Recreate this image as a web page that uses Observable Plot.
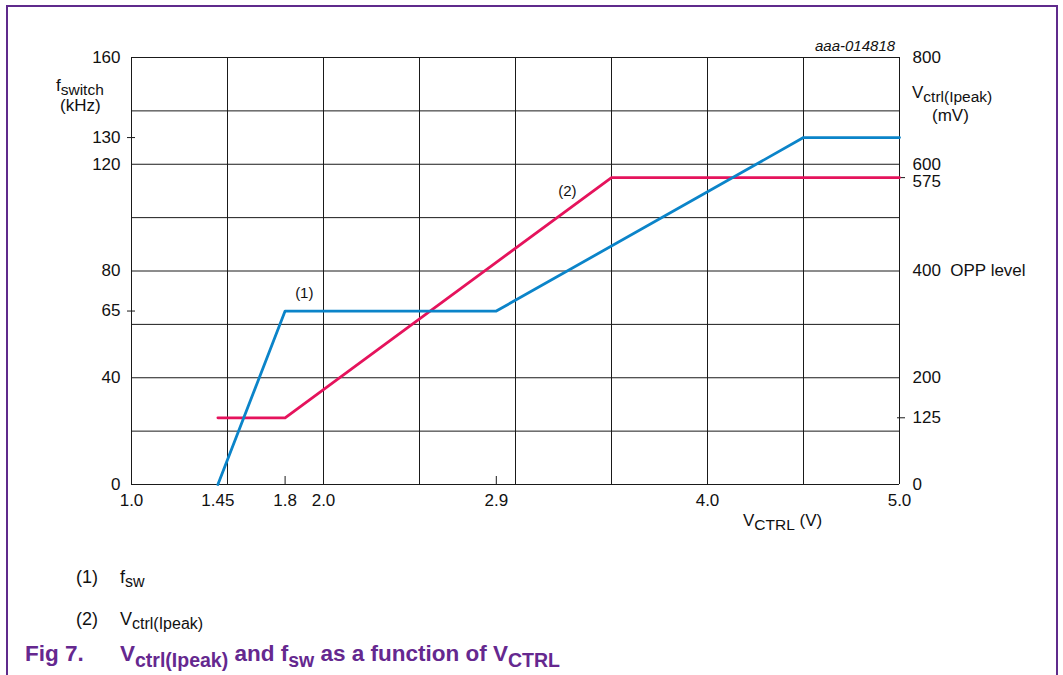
<!DOCTYPE html>
<html>
<head>
<meta charset="utf-8">
<script src="https://cdn.jsdelivr.net/npm/d3@7"></script>
<script src="https://cdn.jsdelivr.net/npm/@observablehq/plot@0.6"></script>
<style>
  html, body { margin: 0; padding: 0; background: #fff; }
  #page { position: relative; width: 1063px; height: 675px; overflow: hidden; font-family: "Liberation Sans", Arial, sans-serif; color: #111; }
  #frame { position: absolute; left: 6px; top: 5px; width: 1052px; height: 700px; border: 2px solid #5f2a8c; box-sizing: border-box; }
  #chart { position: absolute; left: 0; top: 0; }
  .t { position: absolute; font-size: 17px; line-height: 20px; white-space: nowrap; }
  .t sub { font-size: 15.5px; vertical-align: -4px; line-height: 0; }
  .lg { font-size: 18px; }
  .lg sub { font-size: 16px; }
  .fig { position: absolute; font-size: 22.5px; font-weight: bold; color: #65288f; line-height: 24px; white-space: nowrap; }
  .fig sub { font-size: 19.5px; vertical-align: -6px; line-height: 0; }
</style>
</head>
<body>
<div id="page">
  <div id="frame"></div>
  <div id="chart"></div>
  <div class="t" style="left:56px;top:76px;">f<sub>switch</sub></div>
  <div class="t" style="left:60px;top:96px;">(kHz)</div>
  <div class="t" style="left:912px;top:83px;">V<sub>ctrl(Ipeak)</sub></div>
  <div class="t" style="left:932px;top:106px;">(mV)</div>
  <div class="t" style="left:815px;top:36px;font-style:italic;font-size:15px;">aaa-014818</div>
  <div class="t" style="left:743px;top:511px;">V<sub>CTRL</sub> (V)</div>
  <div class="t lg" style="left:76px;top:567px;">(1)</div>
  <div class="t lg" style="left:120px;top:567px;">f<sub>sw</sub></div>
  <div class="t lg" style="left:76px;top:609px;">(2)</div>
  <div class="t lg" style="left:120px;top:609px;">V<sub>ctrl(Ipeak)</sub></div>
  <div class="fig" style="left:25px;top:642px;">Fig 7.</div>
  <div class="fig" style="left:120px;top:642px;">V<sub>ctrl(Ipeak)</sub> and f<sub>sw</sub> as a function of V<sub>CTRL</sub></div>
</div>
<script>
// ---- data ----
const xTicks = [1.0, 1.45, 1.8, 2.0, 2.9, 4.0, 5.0];
const xTickLabels = ["1.0", "1.45", "1.8", "2.0", "2.9", "4.0", "5.0"];
const xMinorTicks = [1.8, 2.9];
const xGrid = [1.0, 1.5, 2.0, 2.5, 3.0, 3.5, 4.0, 4.5, 5.0];
const yGrid = [0, 20, 40, 60, 80, 100, 120, 140, 160];
const leftTicks = [0, 40, 65, 80, 120, 130, 160];
const leftMarkedTicks = [65, 130];
const rightTicksMv = [0, 125, 200, 400, 600, 800];
const rightShiftedTicksMv = [575];  // label nudged down so it clears "600"
const rightMarkedTicksMv = [125, 575];
const mvPerKhz = 5; // right axis 0..800 mV against left axis 0..160 kHz

const vctrlFsw = [1.45, 1.8, 2.9, 4.5, 5.0];
const fswKhz   = [0, 65, 65, 130, 130];
const vctrlVc  = [1.45, 1.8, 3.5, 5.0];
const vcMv     = [125, 125, 575, 575];

const annX = [1.9, 3.27];
const annY = [71.5, 110];
const annText = ["(1)", "(2)"];

const fswData = vctrlFsw.map((x, i) => ({x, y: fswKhz[i]}));
const vcData = vctrlVc.map((x, i) => ({x, mv: vcMv[i]}));
const annData = annX.map((x, i) => ({x, y: annY[i], text: annText[i]}));

const BLUE = "#0b84c9";
const RED = "#e5135c";
const GRID = "#1a1a1a";
const mvLabel = d => { const v = Math.round(d * mvPerKhz); return v === 400 ? "400\u00a0\u00a0OPP level" : String(v); };

const plot = Plot.plot({
  width: 1063,
  height: 540,
  marginLeft: 131,
  marginRight: 164,
  marginTop: 57,
  marginBottom: 56,
  style: { fontSize: "17px", fontFamily: "'Liberation Sans', Arial, sans-serif", color: "#111", background: "transparent", overflow: "visible" },
  x: { domain: [1, 5], axis: null },
  y: { domain: [0, 160], axis: null },
  marks: [
    Plot.ruleX(xGrid, { stroke: GRID, strokeWidth: 1 }),
    Plot.ruleY(yGrid, { stroke: GRID, strokeWidth: 1 }),
    Plot.axisX({ ticks: xTicks, tickSize: 0, tickPadding: 9, label: null, tickFormat: d => xTickLabels[xTicks.indexOf(d)] }),
    Plot.axisX({ ticks: xMinorTicks, tickSize: 8, dy: -8, label: null, tickFormat: () => "", stroke: GRID }),
    Plot.axisY({ ticks: leftTicks, tickSize: 0, tickPadding: 11, label: null }),
    Plot.axisY({ ticks: leftMarkedTicks, tickSize: 8, dx: 4, label: null, tickFormat: () => "", stroke: GRID }),
    Plot.axisY({ anchor: "right", ticks: rightTicksMv.map(v => v / mvPerKhz), tickSize: 0, tickPadding: 13, label: null, tickFormat: mvLabel }),
    Plot.axisY({ anchor: "right", ticks: rightShiftedTicksMv.map(v => v / mvPerKhz), tickSize: 0, tickPadding: 13, dy: 4, label: null, tickFormat: mvLabel }),
    Plot.axisY({ anchor: "right", ticks: rightMarkedTicksMv.map(v => v / mvPerKhz), tickSize: 8, dx: -3, label: null, tickFormat: () => "", stroke: GRID }),
    Plot.line(vcData, { x: "x", y: d => d.mv / mvPerKhz, stroke: RED, strokeWidth: 2.8 }),
    Plot.line(fswData, { x: "x", y: "y", stroke: BLUE, strokeWidth: 2.8 }),
    Plot.text(annData, { x: "x", y: "y", text: "text", fontSize: 15, fill: "#111" })
  ]
});
document.getElementById("chart").appendChild(plot);
</script>
</body>
</html>
